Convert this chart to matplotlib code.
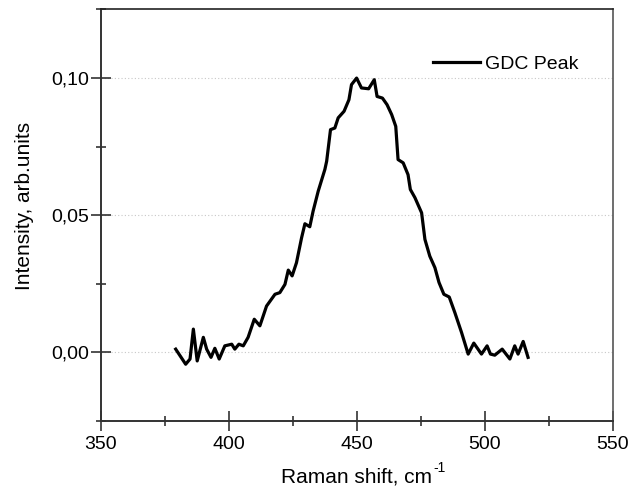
import matplotlib
matplotlib.use("Agg")
import matplotlib.pyplot as plt
from matplotlib.ticker import MultipleLocator, FuncFormatter

plt.rcParams['font.family'] = ['Liberation Sans', 'DejaVu Sans']

raman_shift = [379.2, 383.1, 384.8, 386.1, 387.6, 390.0, 391.3, 393.0, 394.5, 396.2,
               398.4, 401.1, 402.3, 403.9, 405.6, 407.5, 409.9, 412.1, 414.7, 418.0,
               419.9, 421.9, 423.2, 424.7, 426.4, 428.4, 429.7, 431.6, 432.9, 434.9,
               437.5, 438.2, 439.7, 441.4, 442.7, 445.0, 446.9, 447.9, 449.9, 451.8,
               454.6, 456.8, 457.9, 460.0, 461.8, 463.6, 465.2, 466.1, 468.1, 470.0,
               470.9, 472.7, 475.3, 476.6, 478.5, 480.5, 482.1, 484.0, 486.1, 488.3,
               490.9, 493.5, 495.7, 498.7, 500.9, 502.2, 503.9, 506.8, 509.8, 511.7,
               513.0, 515.0, 516.9]
intensity = [0.0012, -0.0043, -0.0024, 0.0085, -0.0031, 0.0055, 0.0012, -0.0018, 0.0015, -0.0024,
             0.0024, 0.0030, 0.0012, 0.0030, 0.0024, 0.0055, 0.0121, 0.0097, 0.0169, 0.0212,
             0.0218, 0.0248, 0.0300, 0.0279, 0.0327, 0.0418, 0.0469, 0.0458, 0.0515, 0.0588,
             0.0667, 0.0697, 0.0812, 0.0818, 0.0855, 0.0879, 0.0921, 0.0976, 0.1000, 0.0964,
             0.0961, 0.0994, 0.0933, 0.0927, 0.0903, 0.0867, 0.0824, 0.0703, 0.0691, 0.0648,
             0.0594, 0.0564, 0.0509, 0.0412, 0.0351, 0.0309, 0.0255, 0.0212, 0.0202, 0.0145,
             0.0073, -0.0006, 0.0034, -0.0006, 0.0024, -0.0006, -0.0010, 0.0012, -0.0024, 0.0024,
             -0.0006, 0.0040, -0.0018]
series_label = "GDC Peak"
x_ticks = [350, 400, 450, 500, 550]
y_ticks = [0.00, 0.05, 0.10]

fig = plt.figure(figsize=(6.28, 4.86), dpi=100)
ax = fig.add_axes([0.1608, 0.1337, 0.8149, 0.8468])

ax.plot(raman_shift, intensity, color='black', lw=2.3, label=series_label,
        solid_joinstyle='round')

ax.set_xlim(350, 550)
ax.set_ylim(-0.025, 0.125)
ax.set_xticks(x_ticks)
ax.set_yticks(y_ticks)
ax.xaxis.set_minor_locator(MultipleLocator(25))
ax.yaxis.set_minor_locator(MultipleLocator(0.025))
ax.yaxis.set_major_formatter(FuncFormatter(lambda v, p: f"{v:.2f}".replace('.', ',')))

ax.tick_params(which='major', direction='inout', length=15, width=1.2, color='#333333',
               labelsize=14)
ax.tick_params(axis='x', which='major', pad=3)
ax.tick_params(axis='y', which='major', pad=1)
ax.tick_params(which='minor', direction='inout', length=7, width=1.2, color='#333333')
ax.tick_params(top=False, right=False, which='both')

for s in ['left', 'bottom']:
    ax.spines[s].set_color('#333333')
    ax.spines[s].set_linewidth(1.4)
ax.spines['top'].set_color('#222222')
ax.spines['top'].set_linewidth(1.2)
ax.spines['right'].set_color('#555555')
ax.spines['right'].set_linewidth(1.2)

ax.yaxis.grid(True, linestyle=(0, (1, 2)), color='#c8c8c8', lw=0.8)
ax.set_axisbelow(True)

xl = ax.set_xlabel("Raman shift, cm", fontsize=15, labelpad=10.5)
ax.set_ylabel("Intensity, arb.units", fontsize=15)
ax.yaxis.set_label_coords(-0.131, 0.5225)

ax.legend(loc='center left', bbox_to_anchor=(0.649, 0.868), frameon=False, fontsize=14,
          handlelength=2.4, handletextpad=0.25, borderpad=0, borderaxespad=0)

# superscript "-1" after the x label
fig.canvas.draw()
bb = xl.get_window_extent()
fig.text(bb.x1 + 1, bb.y1 + 6, "-1", fontsize=10, ha='left', va='top',
         transform=None)

fig.savefig("out.png", dpi=100)
